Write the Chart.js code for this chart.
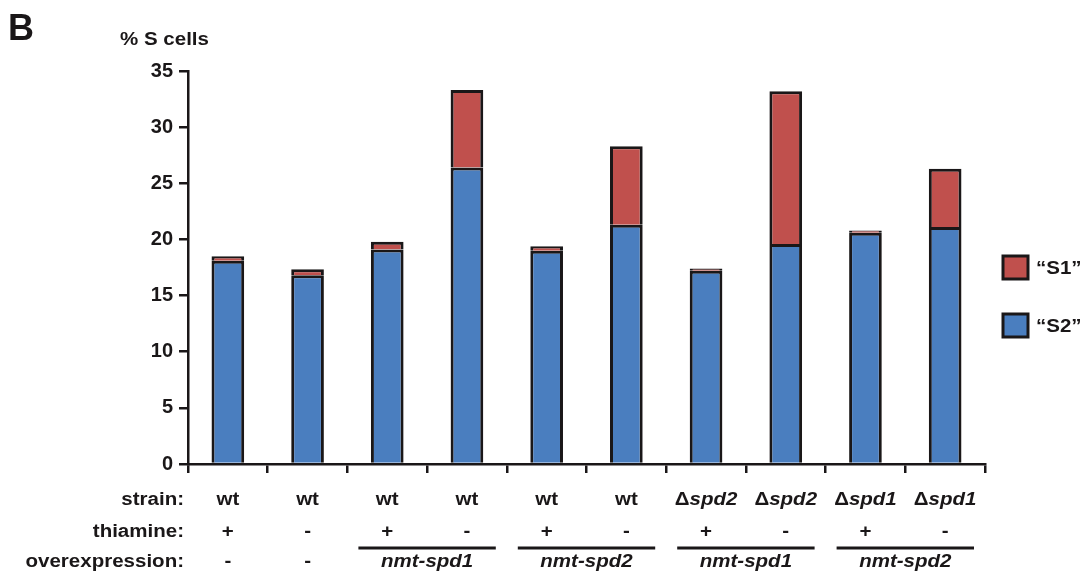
<!DOCTYPE html>
<html>
<head>
<meta charset="utf-8">
<script src="https://cdn.jsdelivr.net/npm/chart.js@4.4.0/dist/chart.umd.min.js"></script>
<style>
  body { margin: 0; background: #fff; }
  canvas { display: block; }
</style>
</head>
<body>
<canvas id="chart" width="1090" height="584"></canvas>
<script>
// data
const strains = ['wt', 'wt', 'wt', 'wt', 'wt', 'wt', 'Δspd2', 'Δspd2', 'Δspd1', 'Δspd1'];
const thiamine = ['+', '-', '+', '-', '+', '-', '+', '-', '+', '-'];
const overexpression = ['-', '-', 'nmt-spd1', 'nmt-spd1', 'nmt-spd2', 'nmt-spd2', 'nmt-spd1', 'nmt-spd1', 'nmt-spd2', 'nmt-spd2'];
const s2Values = [18.1, 16.8, 19.1, 26.4, 19.0, 21.3, 17.2, 19.6, 20.6, 21.1];
const s1Values = [0.4, 0.55, 0.7, 6.9, 0.4, 7.0, 0.2, 13.6, 0.2, 5.2];
const yMin = 0, yMax = 35, yStep = 5;

const INK = '#1a1718';
const FONT = '"Liberation Sans", Arial, Helvetica, sans-serif';
const SX = 1.14; // the figure's lettering is a bit wide

function txt(ctx, s, x, y, font, align) {
  ctx.save();
  ctx.font = font;
  ctx.translate(x, y);
  ctx.scale(SX, 1);
  ctx.textAlign = align || 'center';
  ctx.textBaseline = 'alphabetic';
  ctx.fillText(s, 0, 0);
  ctx.restore();
}

// "Δspd2": delta upright, gene name italic
function strainText(ctx, s, cx, y) {
  const up = 'bold 18px ' + FONT, it = 'italic bold 18px ' + FONT;
  if (s[0] !== 'Δ') { txt(ctx, s, cx, y, up); return; }
  ctx.save();
  ctx.font = up; const w1 = ctx.measureText('Δ').width;
  ctx.font = it; const w2 = ctx.measureText(s.slice(1)).width;
  ctx.restore();
  const left = cx - (w1 + w2) * SX / 2;
  txt(ctx, 'Δ', left, y, up, 'left');
  txt(ctx, s.slice(1), left + w1 * SX, y, it, 'left');
}

const labelsPlugin = {
  id: 'labels',
  afterDraw(chart) {
    const ctx = chart.ctx, x = chart.scales.x, area = chart.chartArea;
    ctx.save();
    ctx.fillStyle = INK;
    ctx.strokeStyle = INK;

    ctx.font = 'bold 36px ' + FONT;
    ctx.textAlign = 'left';
    ctx.fillText('B', 8, 40);
    txt(ctx, '% S cells', 120, 45, 'bold 18px ' + FONT, 'left');

    const rowY = [505, 537, 567];
    txt(ctx, 'strain:', 184, rowY[0], 'bold 18px ' + FONT, 'right');
    txt(ctx, 'thiamine:', 184, rowY[1], 'bold 18px ' + FONT, 'right');
    txt(ctx, 'overexpression:', 184, rowY[2], 'bold 18px ' + FONT, 'right');

    const half = (x.getPixelForValue(1) - x.getPixelForValue(0)) / 2;
    for (let i = 0; i < strains.length; i++) {
      const cx = x.getPixelForValue(i);
      strainText(ctx, strains[i], cx, rowY[0]);
      txt(ctx, thiamine[i], cx, rowY[1], 'bold 18px ' + FONT);
    }
    // overexpression: '-' per bar, otherwise a line over each run of equal names
    let i = 0;
    while (i < overexpression.length) {
      const name = overexpression[i];
      if (name === '-') {
        txt(ctx, '-', x.getPixelForValue(i), rowY[2], 'bold 18px ' + FONT);
        i++;
        continue;
      }
      let j = i;
      while (j + 1 < overexpression.length && overexpression[j + 1] === name) j++;
      const a = x.getPixelForValue(i) - half + 11, b = x.getPixelForValue(j) + half - 11;
      ctx.lineWidth = 3;
      ctx.beginPath();
      ctx.moveTo(a, 548);
      ctx.lineTo(b, 548);
      ctx.stroke();
      txt(ctx, name, (a + b) / 2, rowY[2], 'italic bold 18px ' + FONT);
      i = j + 1;
    }

    // legend, top series first
    const sets = chart.data.datasets.slice().reverse();
    sets.forEach((ds, k) => {
      const bx = area.right + 18, by = 256 + k * 58;
      ctx.fillStyle = ds.backgroundColor;
      ctx.fillRect(bx, by, 25, 23);
      ctx.lineWidth = 3;
      ctx.strokeRect(bx, by, 25, 23);
      ctx.fillStyle = INK;
      txt(ctx, ds.label, bx + 33, by + 18, 'bold 18px ' + FONT, 'left');
    });
    ctx.restore();
  }
};

new Chart(document.getElementById('chart'), {
  type: 'bar',
  data: {
    labels: strains,
    datasets: [
      { label: '“S2”', data: s2Values, backgroundColor: '#4a7ebf' },
      { label: '“S1”', data: s1Values, backgroundColor: '#c0504d' }
    ]
  },
  options: {
    responsive: false,
    animation: false,
    devicePixelRatio: 1,
    layout: { padding: { top: 71, right: 105, bottom: 0, left: 0 } },
    datasets: {
      bar: {
        borderColor: INK,
        borderWidth: 3,
        barPercentage: 0.41,
        categoryPercentage: 1.0
      }
    },
    plugins: { legend: { display: false }, tooltip: { enabled: false } },
    scales: {
      x: {
        stacked: true,
        border: { color: INK, width: 2.5 },
        grid: { drawOnChartArea: false, drawTicks: true, tickLength: 9, color: INK, lineWidth: 2.5 },
        ticks: { display: false },
        afterFit(s) { s.height = 120; }
      },
      y: {
        stacked: true,
        min: yMin,
        max: yMax,
        border: { color: INK, width: 2.5 },
        grid: { drawOnChartArea: false, drawTicks: true, tickLength: 9, color: INK, lineWidth: 2.5 },
        ticks: {
          stepSize: yStep,
          padding: 6,
          color: INK,
          font: { family: FONT, size: 20, weight: 'bold' }
        },
        afterFit(s) { s.width = 188; }
      }
    }
  },
  plugins: [labelsPlugin]
});
</script>
</body>
</html>
